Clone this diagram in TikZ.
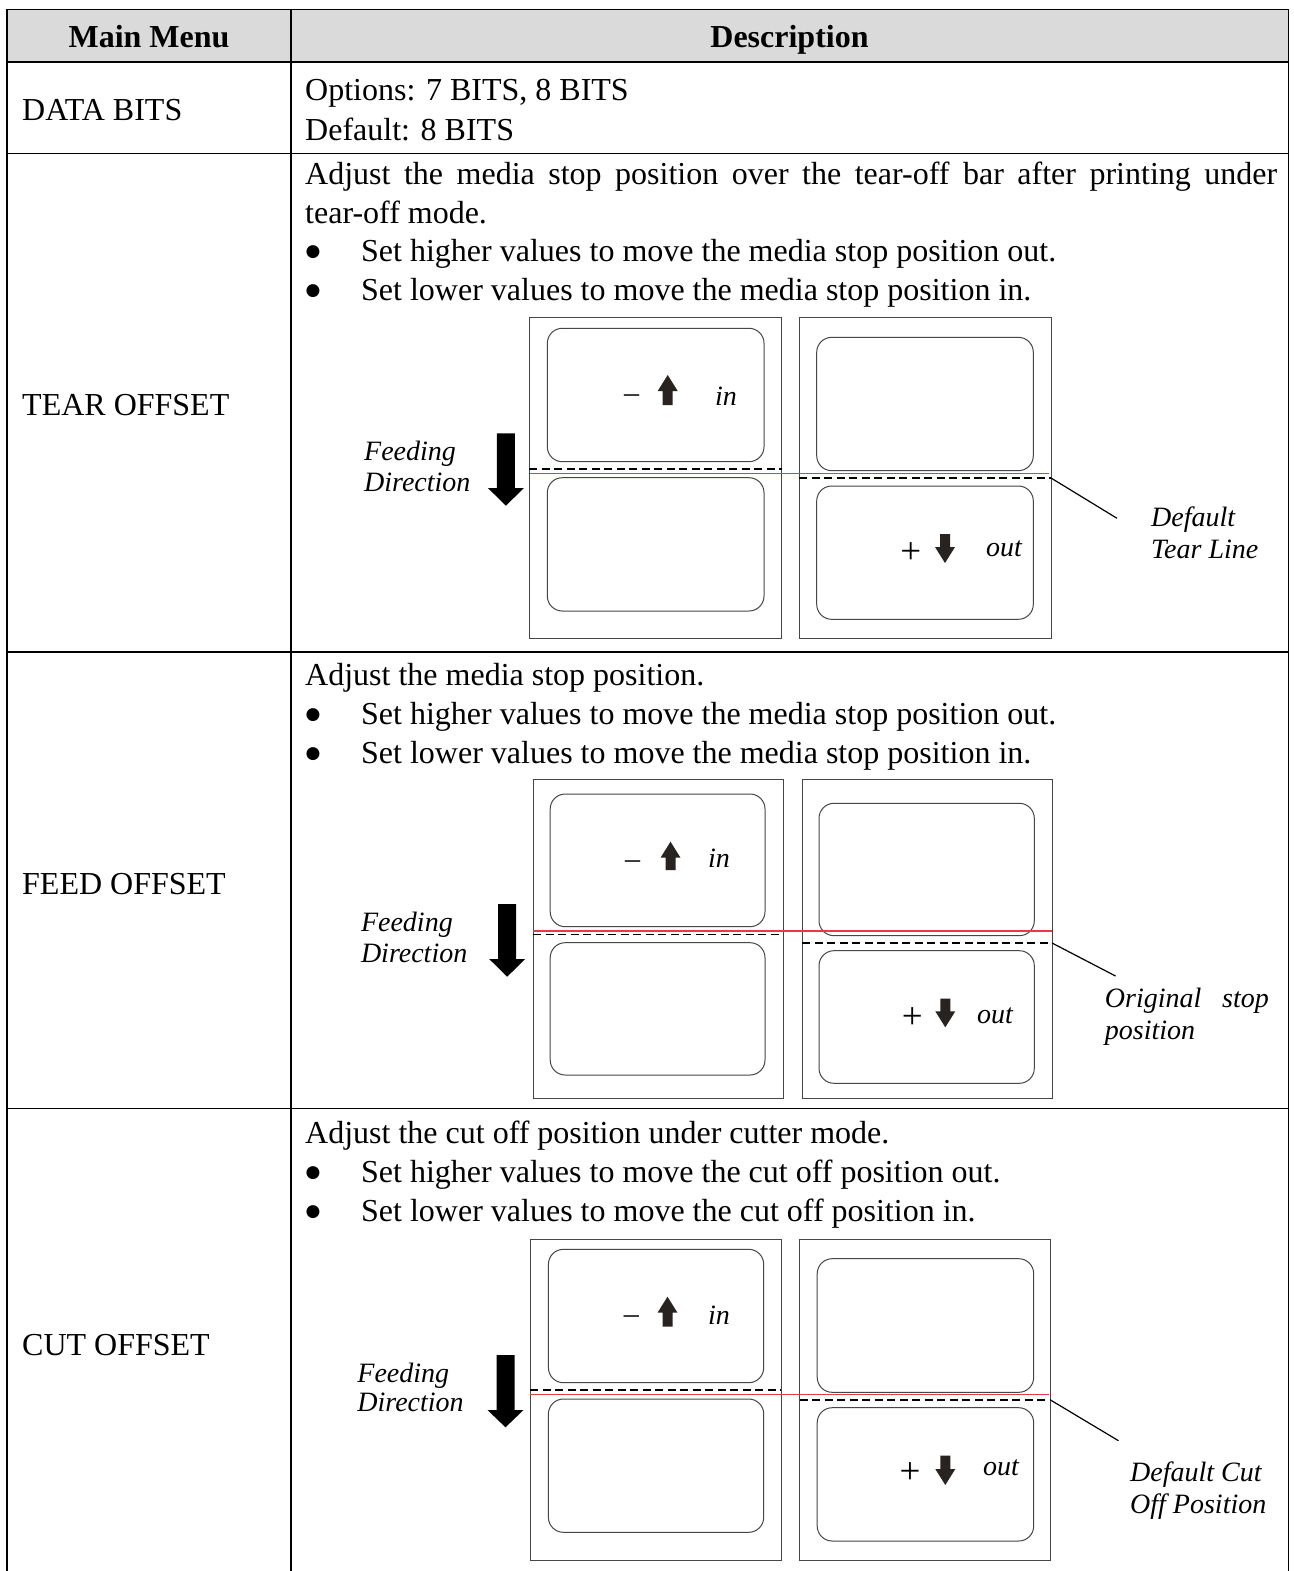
\documentclass[tikz,border=0pt]{standalone}
\usepackage{fontspec}
\setmainfont{Liberation Serif}
\newfontfamily\symfont{DejaVu Sans}
\definecolor{hdrgray}{RGB}{218,218,218}
\definecolor{redln}{RGB}{228,60,70}
\definecolor{arrc}{RGB}{40,34,32}
\definecolor{pnl}{RGB}{70,70,70}
\newcommand{\smallup}[3]{\fill[arrc] ({#1-5},{#3}) -- ({#1-5},{#2+16}) -- ({#1-10},{#2+16}) -- ({#1},{#2}) -- ({#1+10},{#2+16}) -- ({#1+5},{#2+16}) -- ({#1+5},{#3}) -- cycle;}
\newcommand{\smalldown}[3]{\fill[arrc] ({#1-5},{#2}) -- ({#1-5},{#3-16}) -- ({#1-10},{#3-16}) -- ({#1},{#3}) -- ({#1+10},{#3-16}) -- ({#1+5},{#3-16}) -- ({#1+5},{#2}) -- cycle;}
\newcommand{\feedarrow}[4]{\fill[black] ({#1-9},{#2}) -- ({#1-9},{#3}) -- ({#1-18},{#3}) -- ({#1},{#4}) -- ({#1+18},{#3}) -- ({#1+9},{#3}) -- ({#1+9},{#2}) -- cycle;}
\begin{document}
\begin{tikzpicture}[x=1pt,y=-1pt,
  tbl/.style={line width=1.5pt, draw=black},
  panel/.style={draw=pnl, line width=1pt},
  lbl/.style={draw=pnl, line width=1pt, rounded corners=15pt},
  tearln/.style={draw=black, line width=1.6pt, dash pattern=on 8pt off 4.5pt},
  redl/.style={draw=redln, line width=1.3pt},
  leader/.style={draw=black, line width=1.2pt},
  body/.style={font=\fontsize{32}{38}\selectfont, inner sep=0pt, anchor=base west},
  bul/.style={font=\fontsize{17}{18}\selectfont\symfont, inner sep=0pt, anchor=base},
  hdr/.style={font=\fontsize{32}{38}\selectfont\bfseries, inner sep=0pt, anchor=base},
  dlab/.style={font=\fontsize{28}{32}\selectfont\itshape, inner sep=0pt, anchor=base west},
  sign/.style={font=\fontsize{30}{32}\selectfont, inner sep=0pt, anchor=base},
  plus/.style={font=\fontsize{37}{40}\selectfont, inner sep=0pt, anchor=base}]
\useasboundingbox (0,0) rectangle (1293,1571);
\fill[white] (0,0) rectangle (1293,1571);
% header fill
\fill[hdrgray] (7,9.5) rectangle (1288.5,62);
% table grid
\draw[tbl] (7,1580) -- (7,9.5) -- (1288.5,9.5) -- (1288.5,1580);
\draw[tbl] (291,9.5) -- (291,1580);
\draw[tbl] (7,62) -- (1288.5,62);
\draw[tbl] (7,153.5) -- (1288.5,153.5);
\draw[tbl] (7,652) -- (1288.5,652);
\draw[tbl] (7,1108.5) -- (1288.5,1108.5);
% header text
\node[hdr] (h1) at (149,47.5) {Main Menu};
\node[hdr] (h2) at (789.5,47.5) {Description};
% left column
\node[body] (m1) at (22,120) {DATA BITS};
\node[body] (m2) at (22,415) {TEAR OFFSET};
\node[body] (m3) at (22,894) {FEED OFFSET};
\node[body] (m4) at (22,1355) {CUT OFFSET};
% DATA BITS
\node[body] (d1) at (305,100) {Options: 7 BITS, 8 BITS};
\node[body] (d2) at (305,140) {Default: 8 BITS};
% TEAR OFFSET text
\node[body] (t1) at (305,184) {\makebox[972pt][s]{Adjust the media stop position over the tear-off bar after printing under}};
\node[body] (t2) at (305,223) {tear-off mode.};
\node[bul] (tb1) at (313,256) {●};
\node[body] (t3) at (361,261) {Set higher values to move the media stop position out.};
\node[bul] (tb2) at (313,295) {●};
\node[body] (t4) at (361,300) {Set lower values to move the media stop position in.};
% FEED OFFSET text
\node[body] (f1) at (305,685) {Adjust the media stop position.};
\node[bul] (fb1) at (313,719) {●};
\node[body] (f2) at (361,724) {Set higher values to move the media stop position out.};
\node[bul] (fb2) at (313,758) {●};
\node[body] (f3) at (361,763) {Set lower values to move the media stop position in.};
% CUT OFFSET text
\node[body] (c1) at (305,1143) {Adjust the cut off position under cutter mode.};
\node[bul] (cb1) at (313,1177) {●};
\node[body] (c2) at (361,1182) {Set higher values to move the cut off position out.};
\node[bul] (cb2) at (313,1216) {●};
\node[body] (c3) at (361,1221) {Set lower values to move the cut off position in.};

% ===== TEAR diagram =====
\draw[panel] (529.3,317.3) rectangle (781.7,638.3);
\draw[lbl] (547.3,328.3) rectangle (764,461.7);
\draw[lbl] (547.3,477.7) rectangle (764,611);
\draw[panel] (799.3,317.3) rectangle (1051,638.3);
\draw[lbl] (816.7,337.3) rectangle (1033.3,470.7);
\draw[lbl] (816.7,486) rectangle (1033.3,619.3);
\draw[tearln] (529.3,469) -- (781.7,469);
\draw[tearln] (799.3,477.7) -- (1051,477.7);
\draw[redl] (530,473.5) -- (1049,473.5);
\coordinate (tA) at (1051,478);
\coordinate (tB) at (1117,518.3);
\draw[leader] (tA) -- (tB);
\node[dlab] (tl1) at (1151,526.7) {Default};
\node[dlab] (tl2) at (1151,558.3) {Tear Line};
\feedarrow{505.9}{433.3}{488}{505.7}
\node[dlab] (tfa) at (364,460) {Feeding};
\node[dlab] (tfb) at (364,491.7) {Direction};
\node[sign] (tm) at (631.7,402) {–};
\smallup{667.7}{375}{405}
\node[dlab] (tin) at (715,405) {in};
\node[plus] (tp) at (910.7,563) {+};
\smalldown{945}{534}{563}
\node[dlab] (tout) at (986,556.7) {out};

% ===== FEED diagram =====
\draw[panel] (533,779) rectangle (783,1098);
\draw[lbl] (550.2,794) rectangle (765,926.7);
\draw[lbl] (550.2,942.7) rectangle (765,1075);
\draw[panel] (802.2,779) rectangle (1052,1098);
\draw[lbl] (819,803.3) rectangle (1034.3,935.7);
\draw[lbl] (819,950.7) rectangle (1034.3,1083.3);
\draw[tearln] (533,934.5) -- (783,934.5);
\draw[tearln] (802.2,942.7) -- (1052,942.7);
\draw[redl] (533,931) -- (1052,931);
\coordinate (fA) at (1052,943);
\coordinate (fB) at (1115.5,976);
\draw[leader] (fA) -- (fB);
\node[dlab] (fl1) at (1104.7,1007) {\makebox[164pt][s]{Original stop}};
\node[dlab] (fl2) at (1104.7,1039.3) {position};
\feedarrow{507.2}{904}{959}{976.7}
\node[dlab] (ffa) at (360.8,931.7) {Feeding};
\node[dlab] (ffb) at (360.8,962.7) {Direction};
\node[sign] (fm) at (632.6,868.5) {–};
\smallup{670.5}{841.7}{870}
\node[dlab] (fin) at (707.8,867.7) {in};
\node[plus] (fp) at (912.4,1028) {+};
\smalldown{945.3}{998.7}{1027.3}
\node[dlab] (fout) at (977,1023.3) {out};

% ===== CUT diagram =====
\draw[panel] (530.4,1239.3) rectangle (781.2,1560);
\draw[lbl] (548.4,1249.3) rectangle (763.7,1382.7);
\draw[lbl] (548.4,1399) rectangle (763.7,1532.3);
\draw[panel] (799.8,1239.3) rectangle (1050.5,1560);
\draw[lbl] (817.2,1258.7) rectangle (1033.7,1392.3);
\draw[lbl] (817.2,1407.7) rectangle (1033.7,1541);
\draw[tearln] (530.4,1390) -- (781.2,1390);
\draw[tearln] (799.8,1400) -- (1050.5,1400);
\draw[redl] (530.4,1394.7) -- (1049.3,1394.7);
\coordinate (cA) at (1050.5,1400);
\coordinate (cB) at (1118.5,1440.7);
\draw[leader] (cA) -- (cB);
\node[dlab] (cl1) at (1130,1481.7) {Default Cut};
\node[dlab] (cl2) at (1130,1513.3) {Off Position};
\feedarrow{505.5}{1355}{1410}{1427.3}
\node[dlab] (cfa) at (357.2,1382.7) {Feeding};
\node[dlab] (cfb) at (357.2,1411.7) {Direction};
\node[sign] (cm) at (631.4,1323.5) {–};
\smallup{667.5}{1296.7}{1326.7}
\node[dlab] (cin) at (707.8,1324) {in};
\node[plus] (cp) at (910,1483.7) {+};
\smalldown{945.3}{1455.7}{1485}
\node[dlab] (cout) at (983,1475) {out};
\end{tikzpicture}
\end{document}
